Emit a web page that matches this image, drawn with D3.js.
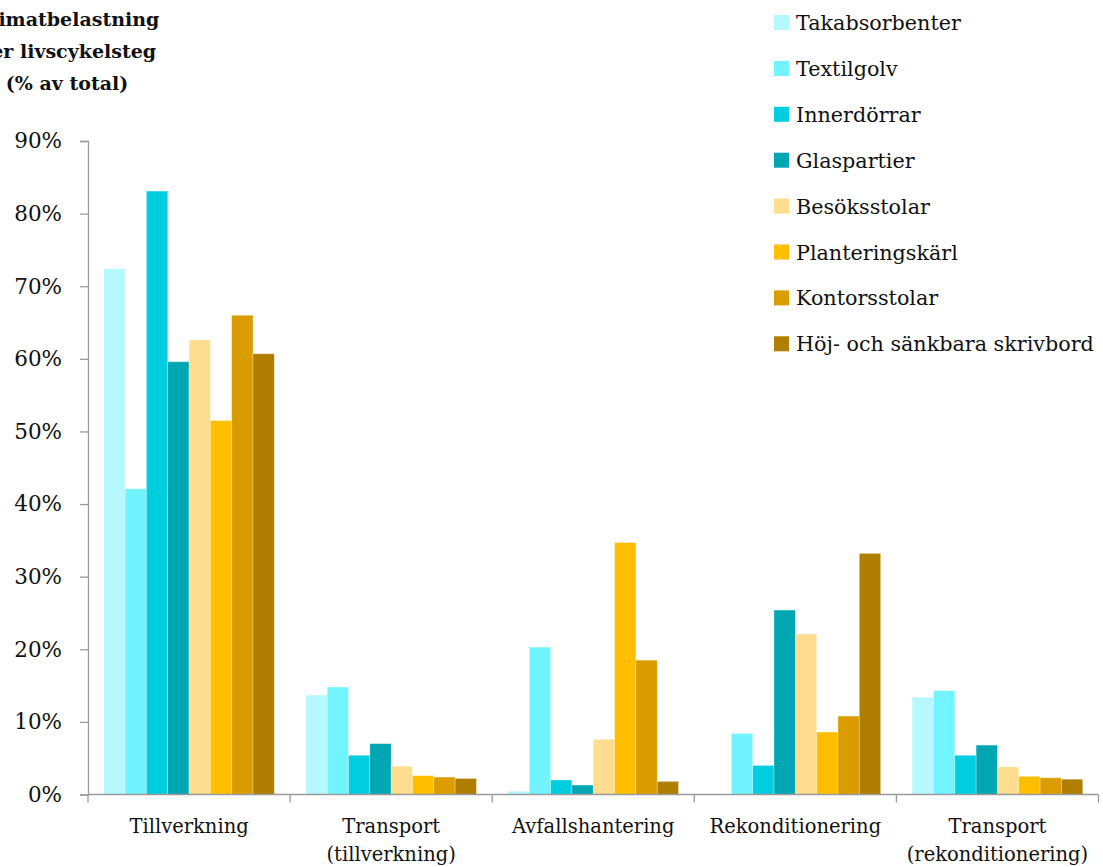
<!DOCTYPE html>
<html>
<head>
<meta charset="utf-8">
<script src="https://cdn.jsdelivr.net/npm/d3@7"></script>
<style>
  html, body { margin: 0; padding: 0; background: #fff; }
  svg { display: block; }
  text { font-family: "DejaVu Serif", "Liberation Serif", serif; fill: #111; }
</style>
</head>
<body>
<svg id="chart" width="1103" height="867"></svg>
<script>
// Life-cycle stages (x categories)
const categories = [
  ["Tillverkning"],
  ["Transport", "(tillverkning)"],
  ["Avfallshantering"],
  ["Rekonditionering"],
  ["Transport", "(rekonditionering)"]
];

// Product groups (series) and their colours
const seriesNames = [
  "Takabsorbenter", "Textilgolv", "Innerdörrar", "Glaspartier",
  "Besöksstolar", "Planteringskärl", "Kontorsstolar", "Höj- och sänkbara skrivbord"
];
const seriesColors = [
  "#B7F7FF", "#71F4FF", "#00CDE0", "#00A6B2",
  "#FFDD8F", "#FFBF00", "#DB9C00", "#B07E00"
];

// Share of total climate impact (%) per stage, one array per product group
const takabsorbenter = [72.4, 13.7, 0.45, 0.0, 13.4];
const textilgolv     = [42.1, 14.8, 20.3, 8.4, 14.3];
const innerdorrar    = [83.1, 5.4, 2.0, 4.0, 5.4];
const glaspartier    = [59.6, 7.0, 1.3, 25.4, 6.8];
const besoksstolar   = [62.6, 3.9, 7.6, 22.1, 3.8];
const planteringskarl= [51.5, 2.6, 34.7, 8.6, 2.5];
const kontorsstolar  = [66.0, 2.4, 18.5, 10.8, 2.3];
const skrivbord      = [60.7, 2.2, 1.8, 33.2, 2.1];

const seriesValues = [
  takabsorbenter, textilgolv, innerdorrar, glaspartier,
  besoksstolar, planteringskarl, kontorsstolar, skrivbord
];

// Y-axis ticks
const yTicks = [0, 10, 20, 30, 40, 50, 60, 70, 80, 90];

// Title lines
const titleLines = ["Klimatbelastning", "per livscykelsteg", "(% av total)"];

const svg = d3.select("#chart");
const axisColor = "#9a9a9a";

const plotLeft = 88, plotRight = 1098.5, plotBottom = 794.5, plotTop = 141;

const catKeys = categories.map(c => c.join(" "));
const x0 = d3.scaleBand().domain(catKeys).range([plotLeft, plotRight]).padding(0);
const x1 = d3.scaleBand().domain(d3.range(seriesNames.length))
  .range([0, x0.bandwidth()]).paddingInner(0).paddingOuter(0.74);
const y = d3.scaleLinear().domain([0, 90]).range([plotBottom, plotTop]);

// Bars
const rows = [];
seriesValues.forEach((vals, si) => {
  vals.forEach((v, ci) => rows.push({ si, ci, v }));
});

svg.append("g").selectAll("rect")
  .data(rows.filter(d => d.v > 0))
  .join("rect")
  .attr("x", d => x0(catKeys[d.ci]) + x1(d.si))
  .attr("y", d => y(d.v))
  .attr("width", x1.bandwidth())
  .attr("height", d => y(0) - y(d.v))
  .attr("fill", d => seriesColors[d.si])
  .attr("stroke", "rgba(255,255,255,0.35)")
  .attr("stroke-width", 0.8);

// Y axis
const yAxis = d3.axisLeft(y).tickValues(yTicks).tickFormat(d => d + "%")
  .tickSizeOuter(0).tickSize(8).tickPadding(18);
const gy = svg.append("g").attr("transform", `translate(${plotLeft},0)`).call(yAxis);
gy.select(".domain").attr("stroke", axisColor).attr("stroke-width", 1.3);
gy.selectAll(".tick line").attr("stroke", axisColor).attr("stroke-width", 1.3);
gy.selectAll(".tick text")
  .style("font-family", '"DejaVu Serif", serif')
  .style("font-size", "21.5px").attr("fill", "#111");

// X axis: baseline with boundary ticks between categories
const boundaries = catKeys.map(k => x0(k)).concat([plotRight]);
const gx = svg.append("g");
gx.append("line")
  .attr("x1", plotLeft).attr("x2", plotRight)
  .attr("y1", plotBottom).attr("y2", plotBottom)
  .attr("stroke", axisColor).attr("stroke-width", 1.3);
gx.selectAll("line.b").data(boundaries).join("line")
  .attr("class", "b")
  .attr("x1", d => d).attr("x2", d => d)
  .attr("y1", plotBottom).attr("y2", plotBottom + 8)
  .attr("stroke", axisColor).attr("stroke-width", 1.3);

// Category labels
categories.forEach((lines, ci) => {
  const cx = x0(catKeys[ci]) + x0.bandwidth() / 2;
  const t = gx.append("text")
    .attr("x", cx).attr("y", 833)
    .attr("text-anchor", "middle")
    .style("font-size", "19.5px");
  lines.forEach((ln, i) => {
    t.append("tspan").attr("x", cx).attr("dy", i === 0 ? 0 : 27.5).text(ln);
  });
});

// Title (top left)
const title = svg.append("text")
  .attr("text-anchor", "middle")
  .style("font-size", "19px").style("font-weight", "bold");
titleLines.forEach((ln, i) => {
  title.append("tspan").attr("x", 67).attr("y", 26 + i * 32).text(ln);
});

// Legend
const legend = svg.append("g");
seriesNames.forEach((name, i) => {
  const ly = 22.5 + i * 45.9;
  legend.append("rect")
    .attr("x", 774).attr("y", ly - 7.5)
    .attr("width", 15).attr("height", 15)
    .attr("fill", seriesColors[i]);
  legend.append("text")
    .attr("x", 796).attr("y", ly + 7.5)
    .style("font-size", "20.7px")
    .text(name);
});
</script>
</body>
</html>
